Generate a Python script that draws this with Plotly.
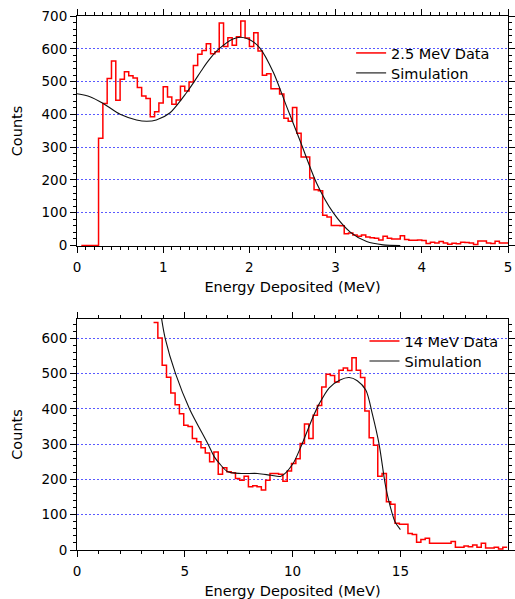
import numpy as np
import plotly.graph_objects as go

# ---------------- data: 2.5 MeV (top panel) ----------------
top_start = 0.05      # left edge of first bin (MeV)
top_width = 0.05      # bin width (MeV)
top_counts = [
    0, 0, 0, 0,
    327, 433, 509, 563, 443, 507, 530, 518, 511, 482, 456, 448, 393, 408, 435,
    484, 453, 431, 444, 486, 471, 499, 549, 583, 595, 615, 585, 591, 679,
    607, 634, 611, 637, 685, 633, 607, 649, 593, 519, 524, 478, 478, 462,
    388, 379, 421, 342, 270, 270, 206, 170, 167, 92, 87, 61, 61, 60,
    36, 38, 32, 28, 32, 26, 24, 22, 17, 28, 22, 20, 20, 30, 18, 16, 16, 17,
    15, 6, 10, 8, 12, 8, 4, 7, 5, 10, 9, 8, 3, 14, 14, 8, 6, 13, 8, 8,
]
sim_top_e = [0, 0.15, 0.30, 0.50, 0.69, 0.81, 0.92, 1.08, 1.27, 1.36, 1.46, 1.55,
             1.64, 1.81, 1.90, 2.00, 2.12, 2.28, 2.43, 2.59, 2.78, 2.97, 3.17,
             3.36, 3.55, 3.75]
sim_top_v = [463, 454, 434, 400, 383, 379, 383, 405, 466, 500, 540, 572,
             598, 630, 635, 628, 603, 527, 425, 318, 190, 101, 41,
             12, 2, 0]

# ---------------- data: 14 MeV (bottom panel) ----------------
bot_start = 3.55
bot_width = 0.2
bot_counts = [
    645, 601, 524, 490, 445, 412, 386, 354, 350, 316, 307, 290, 275, 250, 278,
    215, 233, 222, 219, 203, 198, 209, 179, 182, 179, 170, 198, 217, 217, 215,
    195, 224, 245, 259, 302, 357, 316, 382, 410, 462, 498, 495, 476, 510, 516,
    509, 545, 510, 489, 394, 318, 297, 209, 217, 137, 130, 76, 73, 73, 47, 44,
    22, 30, 33, 19, 19, 19, 19, 19, 24, 8, 8, 11, 9, 14, 8, 19, 6, 6, 8, 3, 8,
]
sim_bot_e = [3.90, 4.09, 4.57, 5.22, 6.08, 6.37, 6.61, 6.99, 7.61, 8.38, 9.00,
             9.46, 10.0, 10.4, 10.93, 11.24, 11.70, 12.2, 12.62, 13.0, 13.4,
             13.7, 14.01, 14.3, 14.5, 14.75, 15.0]
sim_bot_v = [665, 600, 500, 400, 300, 264, 245, 222, 217, 217, 212,
             209, 243, 295, 375, 415, 460, 482, 489, 480, 453,
             385, 300, 185, 130, 80, 58]

top_label = "2.5 MeV Data"
bot_label = "14 MeV Data"
sim_label = "Simulation"
x_title = "Energy Deposited (MeV)"
y_title = "Counts"


def step_xy(start, width, counts):
    edges = start + width * np.arange(len(counts) + 1)
    return edges, list(counts) + [counts[-1]]


FONT = "DejaVu Sans"
TICK_SIZE = 13.5
TEXT_SIZE = 14.5
fig = go.Figure()

tx, ty = step_xy(top_start, top_width, top_counts)
fig.add_trace(go.Scatter(x=tx, y=ty, mode="lines", line=dict(color="#ff0000", width=1.5, shape="hv"),
                         name=top_label, xaxis="x", yaxis="y", legend="legend"))
fig.add_trace(go.Scatter(x=sim_top_e, y=sim_top_v, mode="lines",
                         line=dict(color="#111111", width=1.1, shape="spline", smoothing=0.8),
                         name=sim_label, xaxis="x", yaxis="y", legend="legend2"))

bx, by = step_xy(bot_start, bot_width, bot_counts)
fig.add_trace(go.Scatter(x=bx, y=by, mode="lines", line=dict(color="#ff0000", width=1.5, shape="hv"),
                         name=bot_label, xaxis="x2", yaxis="y2", legend="legend3"))
fig.add_trace(go.Scatter(x=sim_bot_e, y=sim_bot_v, mode="lines",
                         line=dict(color="#111111", width=1.1, shape="spline", smoothing=0.8),
                         name=sim_label, xaxis="x2", yaxis="y2", legend="legend4"))

axis_common = dict(showline=True, linecolor="black", linewidth=1, mirror="ticks",
                   ticks="outside", ticklen=6, tickcolor="black", tickwidth=1,
                   tickfont=dict(family=FONT, size=TICK_SIZE, color="black"),
                   zeroline=False, automargin=False)
grid = dict(showgrid=True, gridcolor="#5a5aff", gridwidth=1, griddash="2px,2px")

TOP_DOM = [0.5693, 1.0]
BOT_DOM = [0.0, 0.4326]


def leg(x, y):
    return dict(x=x, y=y, xanchor="left", yanchor="middle", bgcolor="rgba(0,0,0,0)",
                borderwidth=0, font=dict(family=FONT, size=TEXT_SIZE, color="black"))


# white panels behind the legends (hide gridlines like the original)
legend_boxes = [
    dict(x0=0.6334, x1=0.9722, y0=0.8652, y1=0.9532),
    dict(x0=0.6659, x1=1.0, y0=0.3370, y1=0.4139),
]
for b in legend_boxes:
    fig.add_shape(type="rect", xref="paper", yref="paper", layer="between",
                  fillcolor="white", line=dict(width=0), **b)

fig.update_layout(
    width=515, height=599,
    margin=dict(l=77, r=7, t=16, b=49),
    paper_bgcolor="white", plot_bgcolor="white",
    font=dict(family=FONT, color="black"),
    xaxis=dict(domain=[0, 1], anchor="y", range=[0, 5], tick0=0, dtick=1,
               minor=dict(dtick=0.1, ticklen=3, ticks="outside", tickcolor="black"),
               ticklabelstandoff=3,
               title=dict(text=x_title, font=dict(family=FONT, size=TEXT_SIZE), standoff=7),
               showgrid=False, **axis_common),
    yaxis=dict(domain=TOP_DOM, anchor="x", range=[-1.5, 700], tick0=0, dtick=100,
               minor=dict(dtick=20, ticklen=3, ticks="outside", tickcolor="black"),
               title=dict(text=y_title, font=dict(family=FONT, size=TEXT_SIZE)),
               **grid, **axis_common),
    xaxis2=dict(domain=[0, 1], anchor="y2", range=[0, 19.99], tick0=0, dtick=5,
                minor=dict(dtick=1, ticklen=3, ticks="outside", tickcolor="black"),
                ticklabelstandoff=3,
                title=dict(text=x_title, font=dict(family=FONT, size=TEXT_SIZE), standoff=7),
                showgrid=False, **axis_common),
    yaxis2=dict(domain=BOT_DOM, anchor="x2", range=[0, 655], tick0=0, dtick=100,
                minor=dict(dtick=20, ticklen=3, ticks="outside", tickcolor="black"),
                title=dict(text=y_title, font=dict(family=FONT, size=TEXT_SIZE)),
                **grid, **axis_common),
    legend=leg(0.636, 0.9307),
    legend2=leg(0.636, 0.8933),
    legend3=leg(0.667, 0.3914),
    legend4=leg(0.667, 0.3539),
    showlegend=True,
)

fig.write_html("out.html")
